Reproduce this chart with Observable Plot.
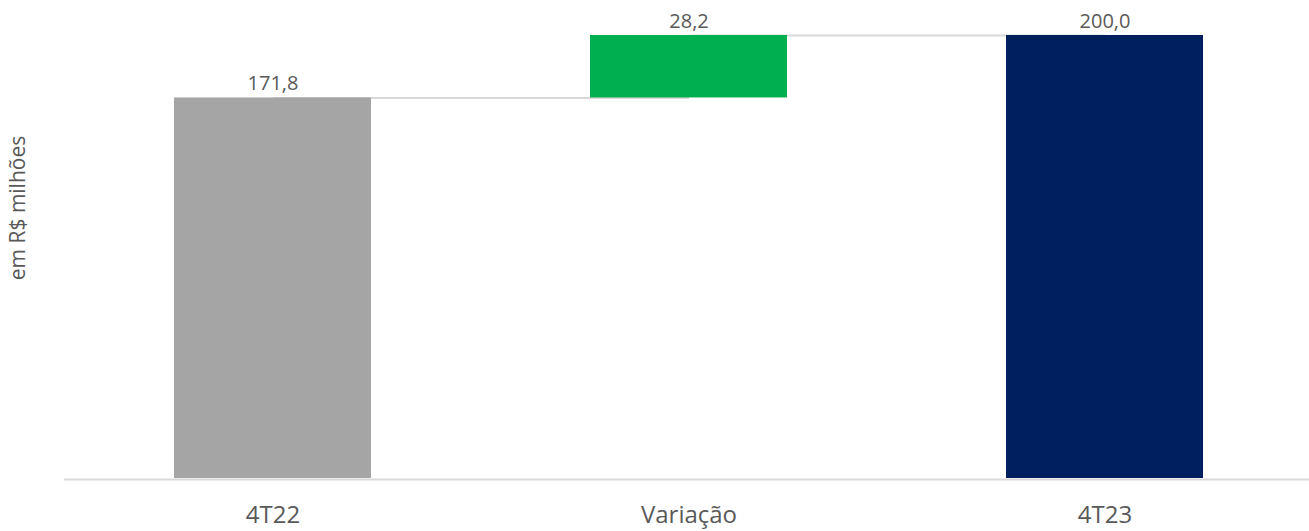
<!DOCTYPE html>
<html>
<head>
<meta charset="utf-8">
<script src="https://cdn.jsdelivr.net/npm/d3@7"></script>
<script src="https://cdn.jsdelivr.net/npm/@observablehq/plot@0.6"></script>
<style>
  html, body { margin: 0; padding: 0; background: #fff; }
  #chart { width: 1309px; height: 531px; }
</style>
</head>
<body>
<div id="chart"></div>
<script>
const categories = ["4T22", "Variação", "4T23"];
const startValues = [0, 171.8, 0];
const endValues = [171.8, 200.0, 200.0];
const labels = ["171,8", "28,2", "200,0"];
const colors = ["#a5a5a5", "#00b050", "#001f5f"];
const yTitle = "em R$ milhões";

const rows = categories.map((c, i) => ({cat: c, y1: startValues[i], y2: endValues[i], label: labels[i], color: colors[i]}));
const connectors = [
  {from: categories[0], to: categories[1], y: endValues[0]},
  {from: categories[1], to: categories[2], y: endValues[1]}
];

const font = "Open Sans, sans-serif";
const chart = Plot.plot({
  width: 1309,
  height: 531,
  marginTop: 35,
  marginBottom: 53,
  marginLeft: 64,
  marginRight: 0,
  style: {fontFamily: font, background: "#fff"},
  x: {domain: categories, range: [65, 1313], paddingInner: 0.526, paddingOuter: 0.263, align: 0.5},
  y: {domain: [0, 200], axis: null},
  marks: [
    Plot.link(connectors, {x1: "from", x2: "to", y1: "y", y2: "y", stroke: "#d9d9d9", strokeWidth: 2}),
    Plot.barY(rows, {x: "cat", y1: "y1", y2: "y2", fill: "color"}),
    Plot.ruleY([0], {stroke: "#d9d9d9", strokeWidth: 2, dy: 1}),
    Plot.text(rows, {x: "cat", y: "y2", text: "label", dy: -14, fontSize: 20, fill: "#595959"}),
    Plot.axisX({tickSize: 0, tickPadding: 27, fontSize: 24, label: null, color: "#595959"}),
    Plot.text([yTitle], {frameAnchor: "left", textAnchor: "middle", dx: -46, dy: -49, rotate: -90, fontSize: 21, fill: "#595959"})
  ]
});
document.getElementById("chart").appendChild(chart);
</script>
</body>
</html>
